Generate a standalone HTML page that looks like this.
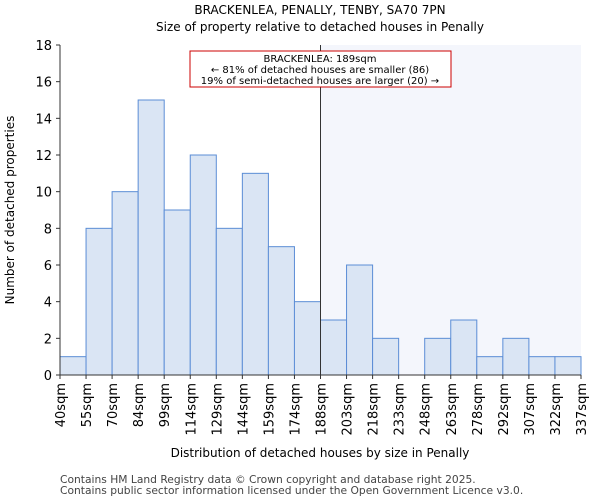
<!DOCTYPE html>
<html><head><meta charset="utf-8"><style>
body{margin:0;background:#fff;font-family:"DejaVu Sans","Liberation Sans",sans-serif;}
</style></head><body>
<svg id="chart" width="600" height="500" xmlns="http://www.w3.org/2000/svg" font-family="DejaVu Sans, Liberation Sans, sans-serif">
<text x="320" y="14" text-anchor="middle" font-size="12">BRACKENLEA, PENALLY, TENBY, SA70 7PN</text>
<text x="320" y="31" text-anchor="middle" font-size="12">Size of property relative to detached houses in Penally</text>
<g id="plot"></g>
<text x="320" y="457" text-anchor="middle" font-size="12">Distribution of detached houses by size in Penally</text>
<text transform="translate(14,210) rotate(-90)" text-anchor="middle" font-size="12">Number of detached properties</text>
<text x="60" y="483" font-size="10.7" fill="#444">Contains HM Land Registry data © Crown copyright and database right 2025.</text>
<text x="60" y="494" font-size="10.7" fill="#444">Contains public sector information licensed under the Open Government Licence v3.0.</text>
</svg>
<script>
const categories=["40sqm","55sqm","70sqm","84sqm","99sqm","114sqm","129sqm","144sqm","159sqm","174sqm","188sqm","203sqm","218sqm","233sqm","248sqm","263sqm","278sqm","292sqm","307sqm","322sqm","337sqm"];
const counts=[1,8,10,15,9,12,8,11,7,4,3,6,2,0,2,3,1,2,1,1];
const yTicks=[0,2,4,6,8,10,12,14,16,18];
const markerIndex=10;
const annotationLines=["BRACKENLEA: 189sqm","← 81% of detached houses are smaller (86)","19% of semi-detached houses are larger (20) →"];
const NS="http://www.w3.org/2000/svg";
const X0=60,X1=581,Y0=375,Y1=45,YMAX=18;
const bw=(X1-X0)/counts.length;
const xs=i=>X0+i*bw;
const ys=v=>Y0-(v/YMAX)*(Y0-Y1);
const g=document.getElementById('plot');
function mk(t,a){const e=document.createElementNS(NS,t);for(const k in a)e.setAttribute(k,a[k]);g.appendChild(e);return e;}
let e;
e=mk('rect',{x:xs(markerIndex),y:Y1,width:X1-xs(markerIndex),height:Y0-Y1,fill:'#f4f6fc'});


counts.forEach((c,i)=>{
 const b=mk('rect',{x:xs(i),y:ys(c),width:bw,height:Y0-ys(c),fill:'#dae5f4',stroke:'#5b8dd6','stroke-width':1});
 
 
});
e=mk('line',{x1:xs(markerIndex),x2:xs(markerIndex),y1:Y1,y2:Y0,stroke:'#333','stroke-width':1});


e=mk('path',{d:`M${X0},${Y1}V${Y0}H${X1}`,fill:'none',stroke:'#333','stroke-width':1});


yTicks.forEach(t=>{
 const l=mk('line',{x1:X0-4,x2:X0,y1:ys(t),y2:ys(t),stroke:'#333'});
 
 
 const tx=mk('text',{x:X0-8,y:ys(t)+5,'text-anchor':'end','font-size':13});
 tx.textContent=t;
 
 
});
categories.forEach((c,i)=>{
 const x=xs(i);
 const l=mk('line',{x1:x,x2:x,y1:Y0,y2:Y0+4,stroke:'#333'});
 
 
 const tx=mk('text',{x:0,y:0,'text-anchor':'end','font-size':13,transform:`translate(${x+5},${Y0+8}) rotate(-90)`});
 tx.textContent=c;
 
 
});
e=mk('rect',{x:190,y:51,width:261,height:36,fill:'#fff',stroke:'#c00','stroke-width':1});


annotationLines.forEach((s,i)=>{
 const tx=mk('text',{x:320,y:62+i*11,'text-anchor':'middle','font-size':10});
 tx.textContent=s;
 
 
});
</script>
</body></html>
